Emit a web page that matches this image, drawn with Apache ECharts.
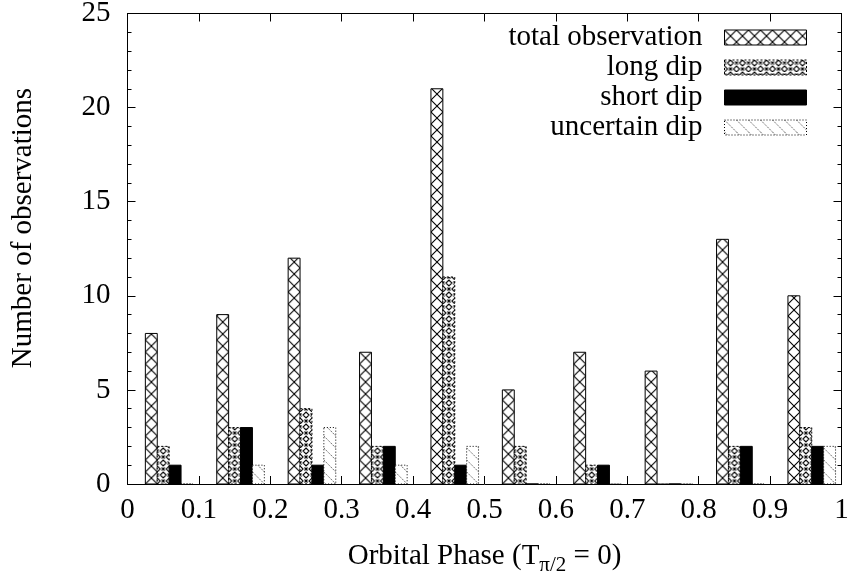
<!DOCTYPE html>
<html>
<head>
<meta charset="utf-8">
<script src="https://cdn.jsdelivr.net/npm/echarts@6/dist/echarts.min.js"></script>
<style>html,body{margin:0;padding:0;background:#fff}#c{width:849px;height:578px}</style>
</head>
<body>
<div id="c"></div>
<script>
// ---- data ----
const binStart = [0, 0.1, 0.2, 0.3, 0.4, 0.5, 0.6, 0.7, 0.8, 0.9];
const totalObservation = [8, 9, 12, 7, 21, 5, 7, 6, 13, 10];
const longDip = [2, 3, 4, 2, 11, 2, 1, 0, 2, 3];
const shortDip = [1, 3, 1, 2, 1, 0, 1, 0, 2, 2];
const uncertainDip = [0, 1, 3, 1, 2, 0, 0, 0, 0, 2];
const seriesNames = ['total observation', 'long dip', 'short dip', 'uncertain dip'];
const xTickLabels = ['0', '0.1', '0.2', '0.3', '0.4', '0.5', '0.6', '0.7', '0.8', '0.9', '1'];
const yTickLabels = ['0', '5', '10', '15', '20', '25'];

const FONT = "'Liberation Serif', 'Times New Roman', serif";
const FS = 29;

// ---- pattern tiles ----
function tile(draw) {
  const c = document.createElement('canvas');
  c.width = 12; c.height = 12;
  const g = c.getContext('2d');
  g.fillStyle = '#fff'; g.fillRect(0, 0, 12, 12);
  draw(g);
  return c;
}
const tileTotal = tile(g => {
  g.strokeStyle = '#000'; g.lineWidth = 1.1;
  g.beginPath();
  g.moveTo(0, 0); g.lineTo(12, 12);
  g.moveTo(12, 0); g.lineTo(0, 12);
  g.stroke();
});
const tileLong = tile(g => {
  g.strokeStyle = '#000'; g.lineWidth = 1.1;
  const diamond = (cx, cy, r) => { g.moveTo(cx, cy - r); g.lineTo(cx + r, cy); g.lineTo(cx, cy + r); g.lineTo(cx - r, cy); g.closePath(); };
  const cross = (cx, cy, r) => { g.moveTo(cx - r, cy - r); g.lineTo(cx + r, cy + r); g.moveTo(cx + r, cy - r); g.lineTo(cx - r, cy + r); };
  g.beginPath();
  diamond(6, 3, 3); diamond(0, 9, 3); diamond(12, 9, 3); diamond(6, 15, 3); diamond(6, -9, 3);
  cross(6, 9, 1.5); cross(0, 3, 1.5); cross(12, 3, 1.5);
  g.stroke();
});
const tileShort = tile(g => { g.fillStyle = '#000'; g.fillRect(0, 0, 12, 12); });
const tileUnc = tile(g => {
  g.strokeStyle = '#666'; g.lineWidth = 1;
  g.setLineDash([1.5, 1]);
  g.beginPath();
  g.moveTo(0, 0); g.lineTo(12, 12);
  g.moveTo(-6, 6); g.lineTo(0, 12);
  g.stroke();
});
const tiles = [tileTotal, tileLong, tileShort, tileUnc];
const dashes = [null, [2, 2], null, [1, 2]];
const dataSets = [totalObservation, longDip, shortDip, uncertainDip];

const BAR_W = 1 / 60;
const OFFSET = 0.025;

function makeRender(k) {
  return function (params, api) {
    const x0 = api.value(0) + OFFSET + k * BAR_W;
    const pTop = api.coord([x0, api.value(1)]);
    const pBot = api.coord([x0 + BAR_W, 0]);
    const x = pTop[0], y = pTop[1];
    const w = pBot[0] - pTop[0], h = pBot[1] - pTop[1];
    return {
      type: 'rect',
      shape: { x: x, y: y, width: w, height: h },
      style: {
        fill: { image: tiles[k], repeat: 'repeat', x: x, y: pBot[1] },
        stroke: '#000',
        lineWidth: 1,
        lineDash: dashes[k]
      }
    };
  };
}

const series = dataSets.map((arr, k) => ({
  name: seriesNames[k],
  type: 'custom',
  xAxisIndex: 0,
  yAxisIndex: 0,
  renderItem: makeRender(k),
  encode: { x: 0, y: 1 },
  itemStyle: {
    color: { image: tiles[k], repeat: 'repeat' },
    borderColor: '#000',
    borderWidth: 1,
    borderType: dashes[k] || 'solid'
  },
  data: binStart.map((b, i) => [b, arr[i]])
}));

const axisBase = {
  axisLine: { show: true, onZero: false, lineStyle: { color: '#000', width: 1 } },
  splitLine: { show: false }
};

const chart = echarts.init(document.getElementById('c'), null, { renderer: 'canvas' });
chart.setOption({
  animation: false,
  backgroundColor: '#fff',
  grid: { left: 127.5, right: 7.5, top: 13.5, bottom: 94, containLabel: false, outerBoundsMode: 'none' },
  legend: {
    orient: 'vertical',
    right: 37,
    top: 18,
    align: 'right',
    icon: 'rect',
    itemWidth: 82,
    itemHeight: 15,
    itemGap: 1,
    selectedMode: false,
    textStyle: { fontSize: FS, fontFamily: FONT, color: '#000', padding: [0, 17, 0, 0] },
    data: seriesNames.map((n, k) => ({
      name: n,
      itemStyle: {
        color: { image: tiles[k], repeat: 'repeat' },
        borderColor: '#000',
        borderWidth: 1,
        borderType: dashes[k] || 'solid'
      }
    }))
  },
  xAxis: [
    Object.assign({}, axisBase, {
      type: 'value', min: 0, max: 1, interval: 0.1, position: 'bottom',
      axisTick: { show: true, inside: true, length: 8, lineStyle: { color: '#000' } },
      axisLabel: {
        margin: 12, fontSize: FS, fontFamily: FONT, color: '#000',
        formatter: v => xTickLabels[Math.round(v * 10)]
      },
      name: '{n|Orbital Phase (T}{s|π/2}{n| = 0)}',
      nameLocation: 'middle',
      nameGap: 52,
      nameTextStyle: {
        rich: {
          n: { fontSize: FS, fontFamily: FONT, color: '#000', lineHeight: 40 },
          s: { fontSize: 21, fontFamily: FONT, color: '#000', lineHeight: 24, verticalAlign: 'bottom' }
        }
      }
    }),
    Object.assign({}, axisBase, {
      type: 'value', min: 0, max: 1, interval: 0.1, position: 'top',
      axisTick: { show: true, inside: true, length: 8, lineStyle: { color: '#000' } },
      axisLabel: { show: false }
    })
  ],
  yAxis: [
    Object.assign({}, axisBase, {
      type: 'value', min: 0, max: 25, interval: 5, position: 'left',
      axisTick: { show: true, inside: true, length: 8, lineStyle: { color: '#000' } },
      minorTick: { show: true, splitNumber: 5, length: 4, lineStyle: { color: '#000' } },
      axisLabel: {
        margin: 17, fontSize: FS, fontFamily: FONT, color: '#000',
        formatter: v => yTickLabels[Math.round(v / 5)]
      }
    }),
    Object.assign({}, axisBase, {
      type: 'value', min: 0, max: 25, interval: 5, position: 'right',
      axisTick: { show: true, inside: true, length: 8, lineStyle: { color: '#000' } },
      minorTick: { show: true, splitNumber: 5, length: 4, lineStyle: { color: '#000' } },
      axisLabel: { show: false }
    })
  ],
  graphic: [{
    type: 'text',
    x: 23, y: 228,
    rotation: Math.PI / 2,
    style: {
      text: 'Number of observations',
      font: FS + 'px ' + FONT,
      fill: '#000',
      align: 'center',
      verticalAlign: 'middle'
    }
  }],
  series: series
});
</script>
</body>
</html>
